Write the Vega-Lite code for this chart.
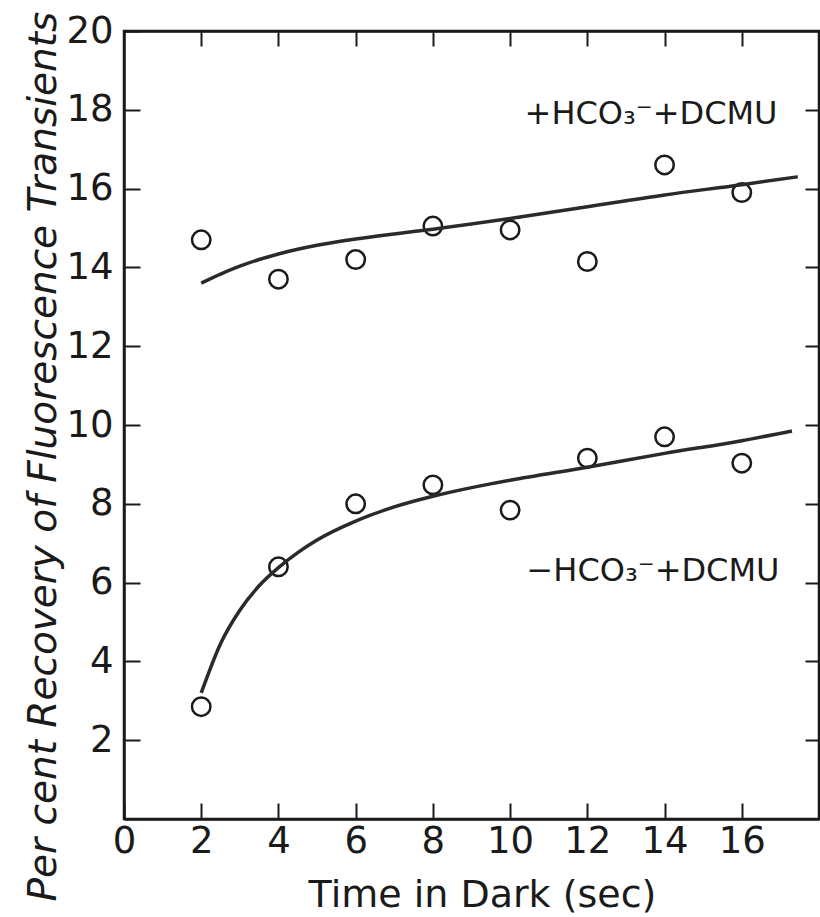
{
  "$schema": "https://vega.github.io/schema/vega-lite/v6.json",
  "width": 695,
  "height": 788,
  "autosize": "none",
  "padding": {"left": 124, "top": 31, "right": 1, "bottom": 98},
  "background": "white",
  "config": {
    "view": {"stroke": "#1a1a1a", "strokeWidth": 2.5},
    "font": "DejaVu Sans",
    "axis": {
      "grid": false,
      "labelFont": "DejaVu Sans",
      "labelFontSize": 37,
      "labelColor": "#1a1a1a",
      "tickColor": "#1a1a1a",
      "tickWidth": 2,
      "domainColor": "#1a1a1a",
      "domainWidth": 2.5,
      "titleFont": "DejaVu Sans",
      "titleFontWeight": "normal",
      "titleColor": "#1a1a1a"
    }
  },
  "datasets": {
    "points": [
      {"t": 2, "r": 14.7, "series": "+HCO3 +DCMU"},
      {"t": 4, "r": 13.7, "series": "+HCO3 +DCMU"},
      {"t": 6, "r": 14.2, "series": "+HCO3 +DCMU"},
      {"t": 8, "r": 15.05, "series": "+HCO3 +DCMU"},
      {"t": 10, "r": 14.95, "series": "+HCO3 +DCMU"},
      {"t": 12, "r": 14.15, "series": "+HCO3 +DCMU"},
      {"t": 14, "r": 16.6, "series": "+HCO3 +DCMU"},
      {"t": 16, "r": 15.9, "series": "+HCO3 +DCMU"},
      {"t": 2, "r": 2.85, "series": "-HCO3 +DCMU"},
      {"t": 4, "r": 6.4, "series": "-HCO3 +DCMU"},
      {"t": 6, "r": 8.0, "series": "-HCO3 +DCMU"},
      {"t": 8, "r": 8.48, "series": "-HCO3 +DCMU"},
      {"t": 10, "r": 7.84, "series": "-HCO3 +DCMU"},
      {"t": 12, "r": 9.16, "series": "-HCO3 +DCMU"},
      {"t": 14, "r": 9.7, "series": "-HCO3 +DCMU"},
      {"t": 16, "r": 9.03, "series": "-HCO3 +DCMU"}
    ],
    "curves": [
      {"t": 2.0, "r": 13.6, "series": "+HCO3 +DCMU"},
      {"t": 2.5, "r": 13.83, "series": "+HCO3 +DCMU"},
      {"t": 3.0, "r": 14.03, "series": "+HCO3 +DCMU"},
      {"t": 3.5, "r": 14.2, "series": "+HCO3 +DCMU"},
      {"t": 4.0, "r": 14.34, "series": "+HCO3 +DCMU"},
      {"t": 5.0, "r": 14.56, "series": "+HCO3 +DCMU"},
      {"t": 6.0, "r": 14.72, "series": "+HCO3 +DCMU"},
      {"t": 7.0, "r": 14.85, "series": "+HCO3 +DCMU"},
      {"t": 8.0, "r": 14.97, "series": "+HCO3 +DCMU"},
      {"t": 10.0, "r": 15.24, "series": "+HCO3 +DCMU"},
      {"t": 12.0, "r": 15.54, "series": "+HCO3 +DCMU"},
      {"t": 14.0, "r": 15.84, "series": "+HCO3 +DCMU"},
      {"t": 16.0, "r": 16.1, "series": "+HCO3 +DCMU"},
      {"t": 17.45, "r": 16.3, "series": "+HCO3 +DCMU"},
      {"t": 2.0, "r": 3.2, "series": "-HCO3 +DCMU"},
      {"t": 2.5, "r": 4.45, "series": "-HCO3 +DCMU"},
      {"t": 3.0, "r": 5.3, "series": "-HCO3 +DCMU"},
      {"t": 3.5, "r": 5.92, "series": "-HCO3 +DCMU"},
      {"t": 4.0, "r": 6.38, "series": "-HCO3 +DCMU"},
      {"t": 4.5, "r": 6.76, "series": "-HCO3 +DCMU"},
      {"t": 5.0, "r": 7.08, "series": "-HCO3 +DCMU"},
      {"t": 6.0, "r": 7.56, "series": "-HCO3 +DCMU"},
      {"t": 7.0, "r": 7.92, "series": "-HCO3 +DCMU"},
      {"t": 8.0, "r": 8.19, "series": "-HCO3 +DCMU"},
      {"t": 9.0, "r": 8.41, "series": "-HCO3 +DCMU"},
      {"t": 10.0, "r": 8.6, "series": "-HCO3 +DCMU"},
      {"t": 12.0, "r": 8.93, "series": "-HCO3 +DCMU"},
      {"t": 14.0, "r": 9.28, "series": "-HCO3 +DCMU"},
      {"t": 16.0, "r": 9.6, "series": "-HCO3 +DCMU"},
      {"t": 17.3, "r": 9.85, "series": "-HCO3 +DCMU"}
    ],
    "labels": [
      {"t": 13.65, "r": 17.9, "label": "+HCO₃⁻+DCMU"},
      {"t": 13.7, "r": 6.3, "label": "−HCO₃⁻+DCMU"}
    ]
  },
  "layer": [
    {
      "data": {"name": "points"},
      "mark": {"type": "point", "shape": "circle", "filled": false, "size": 340, "stroke": "#1a1a1a", "strokeWidth": 2.5, "opacity": 1},
      "encoding": {
        "x": {
          "field": "t", "type": "quantitative",
          "scale": {"domain": [0, 18], "nice": false, "zero": false},
          "axis": {
            "orient": "bottom",
            "values": [0, 2, 4, 6, 8, 10, 12, 14, 16],
            "tickSize": -16,
            "labelPadding": 20,
            "labelFlush": false,
            "labelOverlap": false,
            "title": "Time in Dark (sec)",
            "titleFontSize": 38,
            "titleX": 358,
            "titleY": 87,
            "titleBaseline": "alphabetic",
            "titleAnchor": null
          }
        },
        "y": {
          "field": "r", "type": "quantitative",
          "scale": {"domain": [0, 20], "nice": false, "zero": false},
          "axis": {
            "orient": "left",
            "values": [2, 4, 6, 8, 10, 12, 14, 16, 18, 20],
            "tickSize": -16,
            "labelPadding": 27,
            "labelFlush": false,
            "labelOverlap": false,
            "title": "Per cent Recovery of Fluorescence Transients",
            "titleFontSize": 39,
            "titleFontStyle": "italic",
            "titleX": -69,
            "titleY": 425,
            "titleAngle": 270,
            "titleAlign": "center",
            "titleBaseline": "alphabetic"
          }
        }
      }
    },
    {
      "data": {"name": "curves"},
      "mark": {"type": "line", "interpolate": "monotone", "stroke": "#2a2a2a", "strokeWidth": 3.5},
      "encoding": {
        "x": {
          "field": "t", "type": "quantitative",
          "scale": {"domain": [0, 18], "nice": false, "zero": false},
          "axis": {
            "orient": "top",
            "values": [2, 4, 6, 8, 10, 12, 14, 16],
            "tickSize": -15,
            "labels": false,
            "title": null
          }
        },
        "y": {
          "field": "r", "type": "quantitative",
          "scale": {"domain": [0, 20], "nice": false, "zero": false},
          "axis": {
            "orient": "right",
            "values": [2, 4, 6, 8, 10, 12, 14, 16, 18],
            "tickSize": -14,
            "labels": false,
            "title": null
          }
        },
        "detail": {"field": "series"}
      }
    },
    {
      "data": {"name": "labels"},
      "mark": {"type": "text", "font": "DejaVu Sans", "fontSize": 32, "align": "center", "baseline": "middle", "color": "#1a1a1a"},
      "encoding": {
        "x": {"field": "t", "type": "quantitative", "scale": {"domain": [0, 18], "nice": false, "zero": false}, "axis": null},
        "y": {"field": "r", "type": "quantitative", "scale": {"domain": [0, 20], "nice": false, "zero": false}, "axis": null},
        "text": {"field": "label"}
      }
    }
  ],
  "resolve": {
    "scale": {"x": "independent", "y": "independent"},
    "axis": {"x": "independent", "y": "independent"}
  }
}
